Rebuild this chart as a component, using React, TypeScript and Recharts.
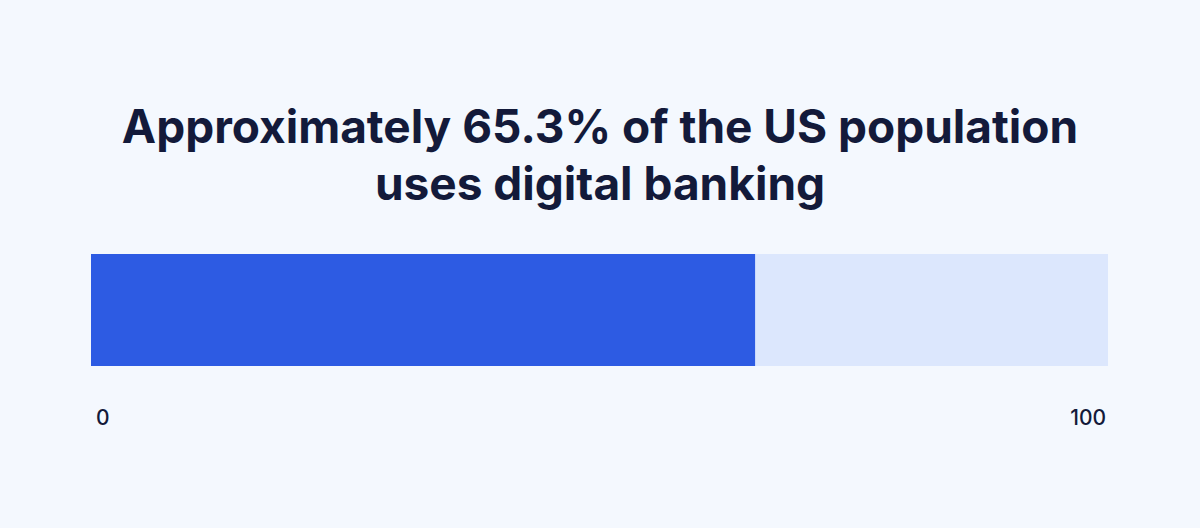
import { BarChart, Bar, XAxis, YAxis } from 'recharts';

const categories = ['US population'];
const digitalBankingShare = [65.3];
const axisTicks = [0, 100];

const data = categories.map((name, i) => ({ name, share: digitalBankingShare[i] }));

const BG = '#f4f8fe';
const INK = '#131a3a';

function EdgeTick(props: any) {
  const { x, y, payload } = props;
  const isStart = payload.value === axisTicks[0];
  return (
    <text
      x={x}
      y={y}
      dx={isStart ? 5 : -2}
      dy={51}
      textAnchor={isStart ? 'start' : 'end'}
      fill={INK}
      fontSize={21}
      fontWeight={500}
      fontFamily="Inter, 'Noto Sans', sans-serif"
    >
      {payload.value}
    </text>
  );
}

export default function App() {
  return (
    <div style={{ position: 'fixed', left: 0, top: 0, width: 1200, height: 528, background: BG, overflow: 'hidden' }}>
      <div
        style={{
          position: 'absolute',
          left: 0,
          top: 98,
          width: 1200,
          textAlign: 'center',
          fontFamily: "Inter, 'Noto Sans', sans-serif",
          fontWeight: 700,
          fontSize: 46,
          lineHeight: '57px',
          color: INK,
        }}
      >
        Approximately 65.3% of the US population
        <br />
        uses digital banking
      </div>
      <BarChart
        width={1200}
        height={528}
        data={data}
        layout="vertical"
        margin={{ top: 254, right: 92, bottom: 102, left: 91 }}
        barCategoryGap={0}
      >
        <XAxis
          type="number"
          domain={[0, 100]}
          ticks={axisTicks}
          axisLine={false}
          tickLine={false}
          height={60}
          tick={<EdgeTick />}
          interval={0}
        />
        <YAxis type="category" dataKey="name" hide width={0} />
        <Bar dataKey="share" fill="#2d5be3" background={{ fill: '#dce7fd' }} isAnimationActive={false} />
      </BarChart>
    </div>
  );
}
